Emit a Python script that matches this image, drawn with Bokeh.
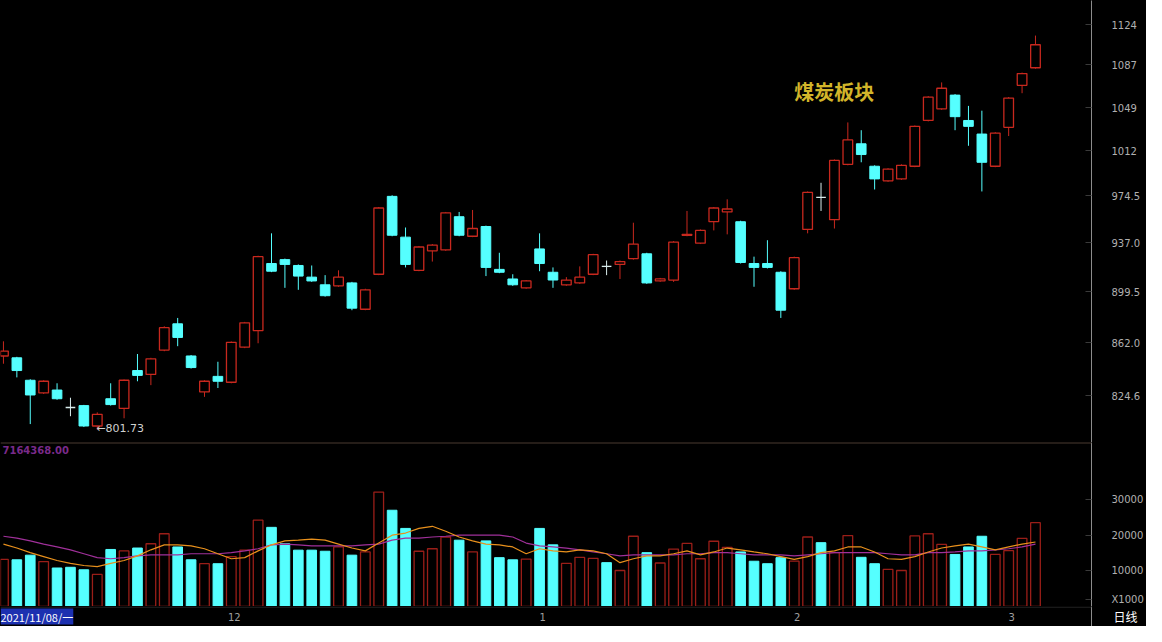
from bokeh.plotting import figure
from bokeh.layouts import column
from bokeh.models import Range1d, FixedTicker, Label, Span, ColumnDataSource
from bokeh.core.properties import value
from bokeh.embed import file_html
from bokeh.resources import INLINE

# ---------------- data ----------------
title_text = "煤炭板块"
first_date = "2021/11/08/一"
low_label = "←801.73"
vol_header = "7164368.00"
period_label = "日线"

opens = [852.6, 851.3, 835.5, 826.7, 828.7, 816.7, 818.0, 804.2, 822.7, 816.1,
         842.3, 839.6, 856.8, 875.8, 852.6, 827.4, 838.2, 834.1, 858.9, 870.8,
         921.0, 924.0, 919.5, 910.6, 904.8, 904.0, 906.2, 886.5, 912.8, 974.1,
         941.5, 915.8, 930.8, 931.5, 957.7, 942.2, 949.9, 916.5, 909.2, 902.5,
         932.3, 914.3, 904.8, 906.2, 912.8, 918.8, 920.3, 924.8, 928.5, 907.7,
         908.4, 943.0, 936.8, 953.7, 961.5, 953.7, 921.0, 921.0, 914.3, 901.8,
         947.6, 973.3, 955.3, 1000.5, 1017.8, 998.9, 986.8, 988.4, 998.9, 1037.8,
         1047.9, 1060.0, 1037.8, 1026.1, 998.9, 1031.9, 1068.7, 1084.5]
highs = [863.1, 852.0, 836.2, 835.5, 833.4, 823.4, 818.5, 813.4, 833.4, 836.0,
         854.0, 851.3, 874.0, 880.1, 853.3, 835.5, 848.5, 863.0, 877.2, 927.0,
         944.5, 924.8, 920.3, 919.5, 912.1, 915.8, 907.0, 901.8, 965.5, 975.0,
         949.1, 934.6, 936.1, 961.5, 961.5, 963.1, 950.6, 929.3, 912.8, 908.4,
         944.5, 918.0, 910.6, 918.8, 928.5, 923.3, 923.3, 952.9, 929.3, 910.0,
         938.4, 962.3, 947.6, 965.5, 971.7, 954.5, 926.3, 939.1, 915.1, 926.3,
         978.1, 985.2, 1004.6, 1036.1, 1029.4, 999.7, 997.3, 1000.5, 1033.5, 1059.1,
         1071.3, 1060.9, 1050.5, 1046.3, 1027.7, 1058.3, 1080.1, 1114.0]
lows = [847.1, 837.5, 805.5, 826.0, 822.0, 810.8, 803.5, 801.73, 818.0, 809.4,
        834.8, 832.1, 856.0, 859.6, 843.7, 824.0, 830.1, 833.4, 858.2, 861.7,
        914.4, 902.5, 901.0, 907.0, 895.9, 903.3, 885.8, 885.8, 912.1, 942.2,
        918.0, 915.1, 922.5, 930.8, 942.2, 941.5, 911.4, 913.6, 904.0, 901.8,
        915.1, 902.5, 904.0, 905.5, 912.1, 912.1, 909.2, 924.0, 905.5, 907.0,
        907.0, 942.2, 936.1, 946.8, 943.7, 921.0, 903.3, 917.2, 880.1, 901.0,
        944.5, 962.3, 948.3, 999.7, 1002.2, 979.7, 986.0, 987.6, 998.1, 1037.0,
        1047.1, 1029.4, 1016.1, 978.1, 998.1, 1024.4, 1061.7, 1083.6]
closes = [856.1, 842.3, 825.3, 834.8, 822.7, 816.7, 804.2, 812.1, 818.7, 835.5,
          838.9, 850.6, 873.0, 865.9, 844.4, 834.8, 834.8, 862.4, 876.5, 926.3,
          915.1, 920.3, 911.4, 907.7, 896.6, 910.6, 887.3, 901.0, 964.7, 943.0,
          920.3, 933.8, 935.3, 960.8, 943.0, 948.3, 918.0, 914.3, 904.8, 907.7,
          921.0, 908.4, 908.4, 910.6, 927.8, 918.8, 922.5, 936.1, 906.2, 909.2,
          937.6, 943.7, 946.8, 964.7, 963.9, 921.8, 918.0, 918.0, 885.8, 925.5,
          977.3, 973.3, 1003.8, 1021.1, 1008.7, 988.4, 996.5, 999.7, 1032.7, 1058.3,
          1066.1, 1041.1, 1032.7, 1002.2, 1026.9, 1057.4, 1079.2, 1105.5]
volumes = [13200, 13100, 14400, 12600, 10800, 11000, 10300, 9000, 16000, 15600,
           16400, 17600, 20400, 16700, 13100, 12000, 12000, 14000, 15800, 24200,
           22200, 17600, 15800, 15800, 15500, 16700, 14400, 15300, 32100, 27000,
           21900, 15500, 16200, 19500, 18600, 15300, 18400, 13700, 13100, 13300,
           21900, 17300, 12100, 13800, 13500, 12300, 10100, 19700, 15100, 12200,
           16100, 17700, 13400, 18300, 16600, 15300, 12700, 12000, 13700, 12700,
           19500, 17900, 15100, 19900, 13800, 12000, 10400, 10100, 19800, 20400,
           17400, 14600, 16700, 19700, 14600, 15700, 19100, 23500]
vol_ma5 = [17500, 16400, 15100, 14000, 12900, 12100, 11500, 11200, 12100, 12900,
           14200, 15900, 17300, 17300, 17000, 16200, 14800, 13400, 13700, 15600,
           17300, 18400, 18600, 18900, 18600, 17500, 16400, 15600, 17800, 20000,
           20600, 21900, 22500, 21100, 19500, 18400, 17500, 17300, 16700, 14800,
           16200, 15600, 15300, 15900, 15600, 14800, 12300, 13400, 14200, 14200,
           14800, 15600, 14500, 15300, 16400, 15900, 15300, 14800, 14000, 13200,
           14000, 15100, 15600, 16700, 16700, 15300, 13400, 13200, 14000, 15300,
           16400, 17000, 17500, 16700, 15900, 16700, 17500, 18100]
vol_ma10 = [19700, 19200, 18400, 17500, 16700, 15900, 14800, 13700, 13400, 13700,
            14200, 14500, 14500, 14500, 14800, 14800, 14800, 15100, 15600, 16200,
            17300, 17500, 17300, 17000, 17000, 17000, 17000, 17300, 17500, 18600,
            19200, 19200, 19500, 19700, 20000, 20000, 20000, 20000, 19500, 17800,
            17000, 16700, 16400, 15900, 15300, 14800, 14200, 14500, 14500, 14500,
            14500, 14800, 14800, 15100, 15100, 14800, 14500, 14500, 14500, 14200,
            14500, 14800, 15100, 15100, 15100, 15100, 14800, 14500, 14500, 15100,
            15100, 15300, 15600, 15600, 15900, 16200, 16700, 17500]

price_ticks = [824.6, 862.0, 899.5, 937.0, 974.5, 1012.0, 1049.0, 1087.0, 1124.0]
price_tick_labels = ["824.6", "862.0", "899.5", "937.0", "974.5", "1012", "1049", "1087", "1124"]
vol_ticks = [1900, 10000, 20000, 30000]
vol_tick_labels = ["X1000", "10000", "20000", "30000"]
month_tick_index = [17, 40, 59, 75]
month_labels = ["12", "1", "2", "3"]

# ---------------- styling ----------------
RED = "#c8281e"
VRED = "#9a1e18"
CYAN = "#55ffff"
DOJI = "#d8ecec"
BG = "black"
AXC = "#8c8c8c"
W = 1146
RB = 55
BODY_W = 0.72

n = len(opens)
idx = list(range(n))

def pick(cond):
    return [i for i in idx if cond(i)]

up_i = pick(lambda i: closes[i] > opens[i])
dn_i = pick(lambda i: closes[i] < opens[i])
dj_i = pick(lambda i: closes[i] == opens[i])

def src(ids):
    return ColumnDataSource(dict(
        x=ids,
        h=[highs[i] for i in ids],
        l=[lows[i] for i in ids],
        top=[max(opens[i], closes[i]) for i in ids],
        bot=[min(opens[i], closes[i]) for i in ids],
        o=[opens[i] for i in ids],
        x0=[i - BODY_W / 2 for i in ids],
        x1=[i + BODY_W / 2 for i in ids],
        v=[volumes[i] for i in ids],
    ))

s_up, s_dn, s_dj = src(up_i), src(dn_i), src(dj_i)

X0, X1 = -0.22, 81.18
x_range = Range1d(X0, X1)

def style_right_axis(ax, ticks, labels):
    ax.ticker = FixedTicker(ticks=ticks)
    ax.major_label_overrides = dict(zip(ticks, labels))
    ax.axis_line_color = AXC
    ax.major_tick_in = 6
    ax.major_tick_out = 0
    ax.major_tick_line_color = "#3a3a3a"
    ax.minor_tick_line_color = None
    ax.major_label_text_color = "#b0b0b0"
    ax.major_label_text_font = "DejaVu Sans"
    ax.major_label_text_font_size = "10px"
    ax.major_label_standoff = 20

# ---------------- price panel ----------------
p = figure(width=W, height=442, y_axis_type="log", y_axis_location="right",
           x_axis_location=None, x_range=x_range, y_range=Range1d(793.2, 1147.1),
           output_backend="svg", toolbar_location=None,
           background_fill_color=BG, border_fill_color=BG,
           min_border_left=0, min_border_right=RB, min_border_top=0, min_border_bottom=0,
           outline_line_color=None)
p.grid.visible = False
style_right_axis(p.yaxis[0], price_ticks, price_tick_labels)

p.segment(x0="x", y0="l", x1="x", y1="h", source=s_up, line_color=RED, line_width=1)
p.vbar(x="x", top="top", bottom="bot", width=BODY_W, source=s_up,
       fill_color=BG, line_color=RED, line_width=1.3)
p.segment(x0="x", y0="l", x1="x", y1="h", source=s_dn, line_color=CYAN, line_width=1)
p.vbar(x="x", top="top", bottom="bot", width=BODY_W, source=s_dn,
       fill_color=CYAN, line_color=CYAN, line_width=1)
p.segment(x0="x", y0="l", x1="x", y1="h", source=s_dj, line_color=DOJI, line_width=1)
p.segment(x0="x0", y0="o", x1="x1", y1="o", source=s_dj, line_color=DOJI, line_width=1.3)

p.add_layout(Label(x=59.0, y=1076, text=title_text, text_color="#d2b52a",
                   text_font="Noto Sans CJK SC", text_font_size="20px",
                   text_font_style="bold", text_baseline="top", text_align="left"))
low_i = lows.index(min(lows))
p.add_layout(Label(x=low_i, y=min(lows), text=low_label, text_color="#d0d0d0",
                   text_font="DejaVu Sans", text_font_size="11px",
                   text_baseline="middle", text_align="left", x_offset=-1, y_offset=1))

# ---------------- volume panel ----------------
v = figure(width=W, height=164, x_range=x_range, y_range=Range1d(0, 46000),
           y_axis_location="right", x_axis_location=None,
           output_backend="svg", toolbar_location=None,
           background_fill_color=BG, border_fill_color=BG,
           min_border_left=0, min_border_right=RB, min_border_top=0, min_border_bottom=0,
           outline_line_color=None)
v.grid.visible = False
style_right_axis(v.yaxis[0], vol_ticks, vol_tick_labels)

v.add_layout(Span(location=46000, dimension="width", line_color="#4a3a30", line_width=2))

v.vbar(x="x", top="v", bottom=0, width=BODY_W, source=s_up,
       fill_color=BG, line_color=VRED, line_width=1.3)
v.vbar(x="x", top="v", bottom=0, width=BODY_W, source=s_dn,
       fill_color=CYAN, line_color=CYAN, line_width=1)
v.vbar(x="x", top="v", bottom=0, width=BODY_W, source=s_dj,
       fill_color=CYAN, line_color=CYAN, line_width=1)
v.line(idx, vol_ma10, line_color="#a0309a", line_width=1.2)
v.line(idx, vol_ma5, line_color="#e8901c", line_width=1.2)

v.add_layout(Label(x=X0, y=43800, text=vol_header, text_color="#7a2a8a",
                   text_font="DejaVu Sans", text_font_size="10px", text_font_style="bold",
                   text_baseline="middle", text_align="left", x_offset=2))

# ---------------- bottom date strip ----------------
s = figure(width=W, height=20, x_range=x_range, y_range=Range1d(0, 1),
           x_axis_location=None, y_axis_location="right",
           output_backend="svg", toolbar_location=None,
           background_fill_color=BG, border_fill_color=BG,
           min_border_left=0, min_border_right=RB, min_border_top=0, min_border_bottom=0,
           outline_line_color=None)
s.grid.visible = False
sy = s.yaxis[0]
sy.ticker = FixedTicker(ticks=[0.5])
sy.major_label_overrides = {0.5: period_label}
sy.axis_line_color = AXC
sy.major_tick_line_color = None
sy.minor_tick_line_color = None
sy.major_label_text_color = "#ffffff"
sy.major_label_text_font = "Noto Sans CJK SC"
sy.major_label_text_font_size = "12px"
sy.major_label_standoff = 16
s.add_layout(Span(location=0.97, dimension="width", line_color="#2a2a2a", line_width=1))
s.text(x=month_tick_index, y=[0.5] * len(month_tick_index), text=month_labels,
       text_color="#a0a0a0", text_font=value("DejaVu Sans"), text_font_size="10px",
       text_align="center", text_baseline="middle", x_offset=3)
s.add_layout(Label(x=X0, y=0.5, text=first_date, text_color="#ffffff",
                   text_font="Noto Sans CJK SC", text_font_size="11px",
                   text_baseline="middle", text_align="left", x_offset=0,
                   background_fill_color="#1c30b0"))

layout = column(p, v, s, spacing=0, background=BG)
open("out.html", "w").write(file_html(layout, INLINE))
